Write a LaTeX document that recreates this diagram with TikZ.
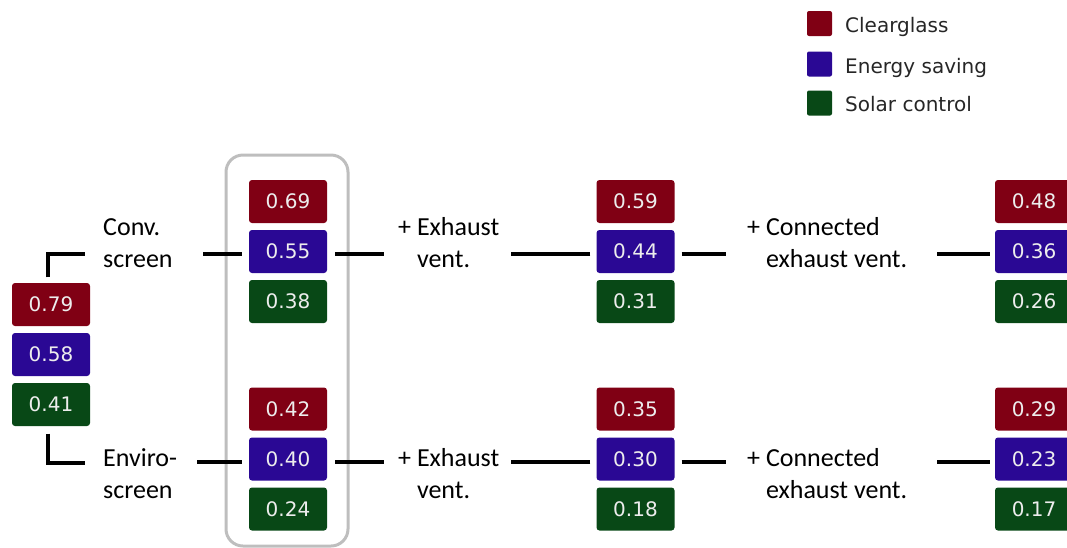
\documentclass[tikz,border=0pt]{standalone}
\usepackage{fontspec}
\setmainfont{Carlito}
\newfontfamily\dejavu{DejaVu Sans}
\definecolor{cgred}{RGB}{128,0,20}
\definecolor{esblue}{RGB}{42,8,148}
\definecolor{scgreen}{RGB}{8,72,22}
\definecolor{framegray}{RGB}{190,190,190}
\begin{document}
\begin{tikzpicture}[x=1pt,y=-1pt,
  valbox/.style={rounded corners=3pt, minimum width=78pt, minimum height=43pt, inner sep=0pt,
    text=white!93!black, font=\dejavu\fontsize{20}{23}\selectfont},
  cgbox/.style={valbox, fill=cgred},
  esbox/.style={valbox, fill=esblue},
  scbox/.style={valbox, fill=scgreen},
  conn/.style={line width=4pt, black},
  lbl/.style={anchor=north west, align=left, inner sep=0pt, font=\fontsize{26}{32}\selectfont},
  legsq/.style={rounded corners=2pt, minimum size=25pt, inner sep=0pt},
  legtxt/.style={anchor=base west, inner sep=0pt, text=black!85, font=\dejavu\fontsize{20}{24}\selectfont}
]
\useasboundingbox (0,0) rectangle (1067,547);
\clip (0,0) rectangle (1067,547);

% legend
\node[legsq, fill=cgred] (l1) at (819.5,23.5) {};
\node[legtxt] (t1) at (845,32) {Clearglass};
\node[legsq, fill=esblue] (l2) at (819.5,64) {};
\node[legtxt] (t2) at (845,73) {Energy saving};
\node[legsq, fill=scgreen] (l3) at (819.5,103) {};
\node[legtxt] (t3) at (845,111) {Solar control};

% highlight frame
\draw[framegray, line width=3pt, rounded corners=17pt] (226,155) rectangle (348,546);

% column 1
\node[cgbox] (a1) at (51,304.5) {0.79};
\node[esbox] (a2) at (51,354.5) {0.58};
\node[scbox] (a3) at (51,404.5) {0.41};

% column 2
\node[cgbox] (b1) at (288,201.5) {0.69};
\node[esbox] (b2) at (288,251.5) {0.55};
\node[scbox] (b3) at (288,301.5) {0.38};
\node[cgbox] (e1) at (288,409) {0.42};
\node[esbox] (e2) at (288,459) {0.40};
\node[scbox] (e3) at (288,509) {0.24};

% column 3
\node[cgbox] (c1) at (635.5,201.5) {0.59};
\node[esbox] (c2) at (635.5,251.5) {0.44};
\node[scbox] (c3) at (635.5,301.5) {0.31};
\node[cgbox] (f1) at (635.5,409) {0.35};
\node[esbox] (f2) at (635.5,459) {0.30};
\node[scbox] (f3) at (635.5,509) {0.18};

% column 4
\node[cgbox] (d1) at (1034,201.5) {0.48};
\node[esbox] (d2) at (1034,251.5) {0.36};
\node[scbox] (d3) at (1034,301.5) {0.26};
\node[cgbox] (g1) at (1034,409) {0.29};
\node[esbox] (g2) at (1034,459) {0.23};
\node[scbox] (g3) at (1034,509) {0.17};

% labels
\node[lbl] (conv) at (103,212.6) {\strut Conv.\\screen};
\node[lbl] (exh1) at (398,212.6) {\strut+ Exhaust\\\phantom{+ }vent.};
\node[lbl] (cex1) at (747,212.6) {\strut+ Connected\\\phantom{+ }exhaust vent.};
\node[lbl] (env) at (103,443.6) {\strut Enviro-\\screen};
\node[lbl] (exh2) at (398,443.6) {\strut+ Exhaust\\\phantom{+ }vent.};
\node[lbl] (cex2) at (747,443.6) {\strut+ Connected\\\phantom{+ }exhaust vent.};

% brackets
\draw[conn] ([xshift=-3pt,yshift=5.5pt]a1.north) -- ++(0,-23) -- ++(37,0);
\draw[conn] ([xshift=-3pt,yshift=-7.5pt]a3.south) -- ++(0,29) -- ++(37,0);

% top row connectors
\draw[conn] ([xshift=-7pt,yshift=-2.5pt]b2.west) -- ++(-39,0);
\draw[conn] ([xshift=8pt,yshift=-2.5pt]b2.east) -- ++(49,0);
\draw[conn] ([xshift=-6pt,yshift=-2.5pt]c2.west) -- ++(-79,0);
\draw[conn] ([xshift=7pt,yshift=-2.5pt]c2.east) -- ++(44,0);
\draw[conn] ([xshift=-5pt,yshift=-2.5pt]d2.west) -- ++(-53,0);

% bottom row connectors
\draw[conn] ([xshift=-7pt,yshift=-3pt]e2.west) -- ++(-45,0);
\draw[conn] ([xshift=8pt,yshift=-3pt]e2.east) -- ++(49,0);
\draw[conn] ([xshift=-6pt,yshift=-3pt]f2.west) -- ++(-79,0);
\draw[conn] ([xshift=7pt,yshift=-3pt]f2.east) -- ++(44,0);
\draw[conn] ([xshift=-5pt,yshift=-3pt]g2.west) -- ++(-53,0);
\end{tikzpicture}
\end{document}
